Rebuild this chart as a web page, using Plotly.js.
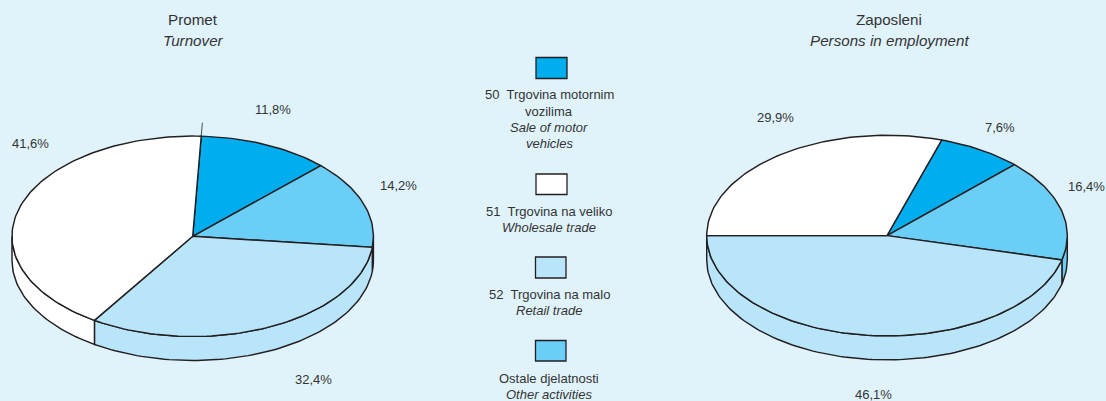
<!DOCTYPE html>
<html>
<head>
<meta charset="utf-8">
<script src="https://cdn.plot.ly/plotly-3.0.1.min.js"></script>
<style>html,body{margin:0;padding:0;background:#e0f3fb;overflow:hidden}#chart{width:1106px;height:401px}</style>
</head>
<body>
<div id="chart"></div>
<script>
const categories = ['Trgovina motornim vozilima', 'Ostale djelatnosti', 'Trgovina na malo', 'Trgovina na veliko'];
const turnoverValues = [11.8, 14.2, 32.4, 41.6];
const employmentValues = [7.6, 16.4, 46.1, 29.9];
const sliceColors = ['#00aeef', '#6acef6', '#b9e5fb', '#ffffff'];

const INK = '#231f20', TEXT = '#333335', BG = '#e0f3fb', FONT = 'Liberation Sans, Arial, sans-serif';
const RIM = 1.45;

const pies = [
  {values: turnoverValues, cx: 192.7, cy: 236.3, rx: 180.7, ry: 100.2, depth: 24, start: 2.7, spike: 1.135,
   labels: [[273, 109], [398, 185], [313, 379], [30, 143]]},
  {values: employmentValues, cx: 887, cy: 235.6, rx: 180.3, ry: 100.3, depth: 24, start: 17.64, spike: 0,
   labels: [[1000, 127], [1086, 186], [873, 394], [775, 117]]}
];

const textLines = [
  ['Promet', 193, 19, 15.2, false], ['Turnover', 193, 40, 15.2, true],
  ['Zaposleni', 889, 19, 15.2, false], ['Persons in employment', 889, 40, 15.2, true],
  ['50  Trgovina motornim', 549, 94, 13, false], ['vozilima', 549, 111, 13, false],
  ['Sale of motor', 549, 127, 13, true], ['vehicles', 549, 143, 13, true],
  ['51  Trgovina na veliko', 549, 211, 13, false], ['Wholesale trade', 549, 227, 13, true],
  ['52  Trgovina na malo', 549, 294, 13, false], ['Retail trade', 549, 310, 13, true],
  ['Ostale djelatnosti', 549, 378, 13, false], ['Other activities', 549, 394, 13, true]
];

const swatches = [
  [536, 57.5, 567, 78.5, 0], [536, 174, 567, 194.5, 3], [535.5, 257, 566, 278, 2], [535.5, 340.5, 566, 361, 1]
];

const rad = d => d * Math.PI / 180;
function arc(p, a, b, dy) {
  const xs = [], ys = [];
  const n = Math.max(2, Math.ceil(Math.abs(b - a) / 1.5));
  for (let i = 0; i <= n; i++) {
    const t = rad(a + (b - a) * i / n);
    xs.push(p.cx + p.rx * Math.sin(t));
    ys.push(p.cy - p.ry * Math.cos(t) + dy);
  }
  return [xs, ys];
}

const traces = [];
const annotations = [];
pies.forEach(p => {
  const tops = [];
  let a = p.start;
  p.values.forEach((v, i) => {
    const b = a + v * 3.6;
    const lo = Math.max(a, 90), hi = Math.min(b, 270);
    if (hi > lo) {
      const [x1, y1] = arc(p, lo, hi, 0);
      const [x2, y2] = arc(p, hi, lo, p.depth);
      traces.push({type: 'scatter', mode: 'lines', x: x1.concat(x2, [x1[0]]), y: y1.concat(y2, [y1[0]]),
        fill: 'toself', fillcolor: sliceColors[i], line: {color: INK, width: RIM, shape: 'linear'},
        name: categories[i], hoverinfo: 'skip', showlegend: false});
    }
    const [x, y] = arc(p, a, b, 0);
    tops.push({type: 'scatter', mode: 'lines', x: [p.cx].concat(x, [p.cx]), y: [p.cy].concat(y, [p.cy]),
      fill: 'toself', fillcolor: sliceColors[i], line: {color: INK, width: RIM},
      name: categories[i], text: v + '%', hoverinfo: 'name+text', showlegend: false});
    const [lx, ly] = p.labels[i];
    annotations.push({x: lx, y: ly, xref: 'x', yref: 'y', showarrow: false, xanchor: 'center', yanchor: 'middle',
      text: v.toFixed(1).replace('.', ',') + '%', font: {family: FONT, size: 13, color: TEXT}});
    a = b;
  });
  traces.push(...tops);
  if (p.spike) {
    const t = rad(p.start);
    traces.push({type: 'scatter', mode: 'lines',
      x: [p.cx + p.rx * Math.sin(t), p.cx + p.spike * p.rx * Math.sin(t)],
      y: [p.cy - p.ry * Math.cos(t), p.cy - p.spike * p.ry * Math.cos(t)],
      line: {color: INK, width: 0.8}, hoverinfo: 'skip', showlegend: false});
  }
});

textLines.forEach(([text, x, y, size, italic]) => {
  annotations.push({x, y, xref: 'x', yref: 'y', showarrow: false, xanchor: 'center', yanchor: 'middle', text,
    font: {family: FONT, size, color: TEXT, style: italic ? 'italic' : 'normal'}});
});

const shapes = swatches.map(([x0, y0, x1, y1, c]) => ({type: 'rect', xref: 'x', yref: 'y', x0, y0, x1, y1,
  fillcolor: sliceColors[c], line: {color: INK, width: 1.3}}));

const hidden = {visible: false, fixedrange: true};
Plotly.newPlot('chart', traces, {
  width: 1106, height: 401, margin: {l: 0, r: 0, t: 0, b: 0},
  paper_bgcolor: BG, plot_bgcolor: BG, showlegend: false,
  xaxis: Object.assign({range: [0, 1106]}, hidden),
  yaxis: Object.assign({range: [401, 0]}, hidden),
  shapes, annotations
}, {displayModeBar: false, responsive: false});
</script>
</body>
</html>
